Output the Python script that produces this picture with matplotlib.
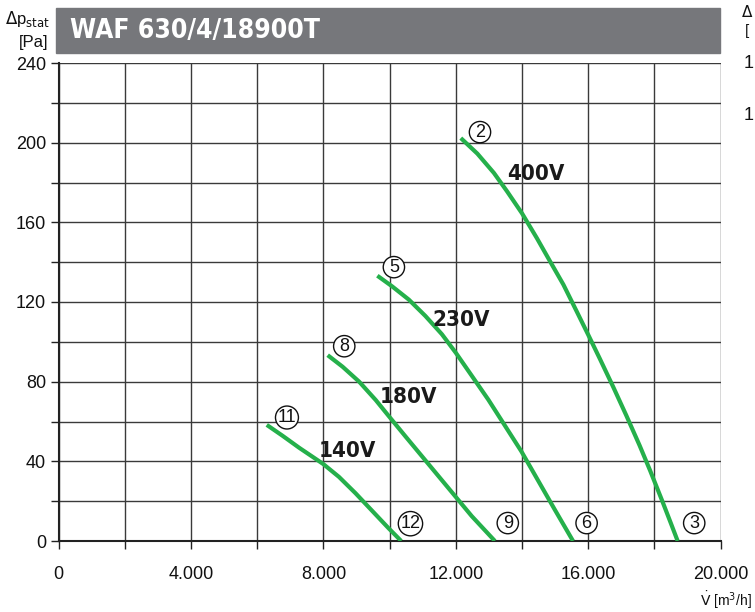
import matplotlib
matplotlib.use("Agg")
import matplotlib.pyplot as plt
from matplotlib.patches import Rectangle

plt.rcParams['font.family'] = ['Liberation Sans', 'DejaVu Sans']

# ---- data ----
x_400 = [12150, 12650, 13150, 13550, 14000, 14450, 14850, 15250, 15650, 16000, 16350,
         16750, 17150, 17550, 17870, 18230, 18500, 18700]
y_400 = [202.3, 194.5, 184.8, 175.5, 164.5, 152, 140.3, 128.7, 115.3, 103.5, 91.5,
         77.5, 63, 48, 35.3, 20.3, 8.7, 0]
x_230 = [9630, 10080, 10580, 11080, 11580, 12000, 12480, 12980, 13480, 13980, 14480, 14980, 15540]
y_230 = [133.2, 127.8, 121.2, 113.0, 103.8, 94.5, 83, 71, 58, 45, 30.5, 16, 0]
x_180 = [8130, 8580, 9080, 9580, 10000, 10480, 10980, 11480, 11980, 12480, 13180]
y_180 = [93.3, 87.5, 80, 70.8, 62.2, 52.5, 42.5, 32.5, 22.5, 12.5, 0]
x_140 = [6290, 6770, 7270, 7770, 8000, 8470, 8970, 9470, 9970, 10350]
y_140 = [58.3, 52.8, 46.8, 41.2, 38.6, 32.2, 24, 15.2, 6.4, 0]

voltage_labels = ["400V", "230V", "180V", "140V"]
voltage_pos = [(14430, 184.5), (12160, 110.8), (10580, 72.5), (8720, 45.3)]
point_labels = ["2", "3", "5", "6", "8", "9", "11", "12"]
point_pos = [(12730, 205.3), (19200, 9), (10130, 137.5), (15950, 9),
             (8630, 97.8), (13570, 9), (6900, 62), (10630, 8.7)]

x_ticks = [0, 4000, 8000, 12000, 16000, 20000]
x_tick_labels = ["0", "4.000", "8.000", "12.000", "16.000", "20.000"]
y_ticks = [0, 40, 80, 120, 160, 200, 240]
title = "WAF 630/4/18900T"

# ---- figure ----
fig = plt.figure(figsize=(7.55, 6.12), dpi=100)
ax = fig.add_axes([58.5/755, 71/612, (720.7-58.5)/755, 478/612])

green = '#25b04b'
for xs, ys in [(x_400, y_400), (x_230, y_230), (x_180, y_180), (x_140, y_140)]:
    ax.plot(xs, ys, color=green, lw=3.0, solid_capstyle='butt', solid_joinstyle='round', zorder=3)

ax.set_xlim(0, 20000)
ax.set_ylim(0, 240)
ax.set_xticks(range(0, 20001, 2000))
ax.set_xticklabels([x_tick_labels[x_ticks.index(v)] if v in x_ticks else "" for v in range(0, 20001, 2000)])
ax.set_yticks(range(0, 241, 20))
ax.set_yticklabels([str(v) if v in y_ticks else "" for v in range(0, 241, 20)])
ax.grid(True, color='#3a3a3a', lw=1.0)
ax.set_axisbelow(True)
ax.tick_params(axis='both', direction='out', length=6, width=1, color='#222222',
               labelsize=13, labelcolor='#111111')
ax.tick_params(axis='x', pad=12)
ax.tick_params(axis='y', pad=3)
for s in ['top', 'right']:
    ax.spines[s].set_visible(False)
for s in ['left', 'bottom']:
    ax.spines[s].set_linewidth(1.5)
    ax.spines[s].set_color('#222222')

cond = dict(family='DejaVu Sans', fontstretch='condensed', fontweight='bold')
for lab, (x, y) in zip(voltage_labels, voltage_pos):
    ax.text(x, y, lab, fontsize=16, color='#1a1a1a', ha='center', va='center', zorder=4, **cond)

for lab, (x, y) in zip(point_labels, point_pos):
    ax.text(x, y, lab, fontsize=13, color='#111111', ha='center', va='center', zorder=4,
            bbox=dict(boxstyle='circle,pad=0.12', fc='white', ec='#111111', lw=1.0))

# title bar
fig.patches.append(Rectangle((56/755, 1 - 53/612), (720 - 56)/755, 45/612,
                             transform=fig.transFigure, color='#76777b', zorder=0))
fig.text(70/755, 1 - 31/612, title, fontsize=19, color='white', ha='left', va='center', **cond)

# axis labels
fig.text(50/755, 1 - 19/612, r"$\Delta$p$_{\mathrm{stat}}$", fontsize=12, ha='right',
         va='center', color='#111111')
fig.text(48/755, 1 - 42/612, "[Pa]", fontsize=12, ha='right', va='center', color='#111111')
fig.text(752/755, 1 - 600/612, r"$\dot{\mathrm{V}}$ [m$^3$/h]", fontsize=10, ha='right',
         va='center', color='#111111')

# visible fragments of the neighbouring chart at the right edge
fig.text(741/755, 1 - 12/612, r"$\Delta$", fontsize=11, ha='left', va='center', color='#111111')
fig.text(745/755, 1 - 31/612, "[", fontsize=11, ha='left', va='center', color='#111111')
fig.text(744/755, 1 - 63/612, "1", fontsize=13, ha='left', va='center', color='#111111')
fig.text(744/755, 1 - 115/612, "1", fontsize=13, ha='left', va='center', color='#111111')

fig.savefig("out.png", dpi=100)
